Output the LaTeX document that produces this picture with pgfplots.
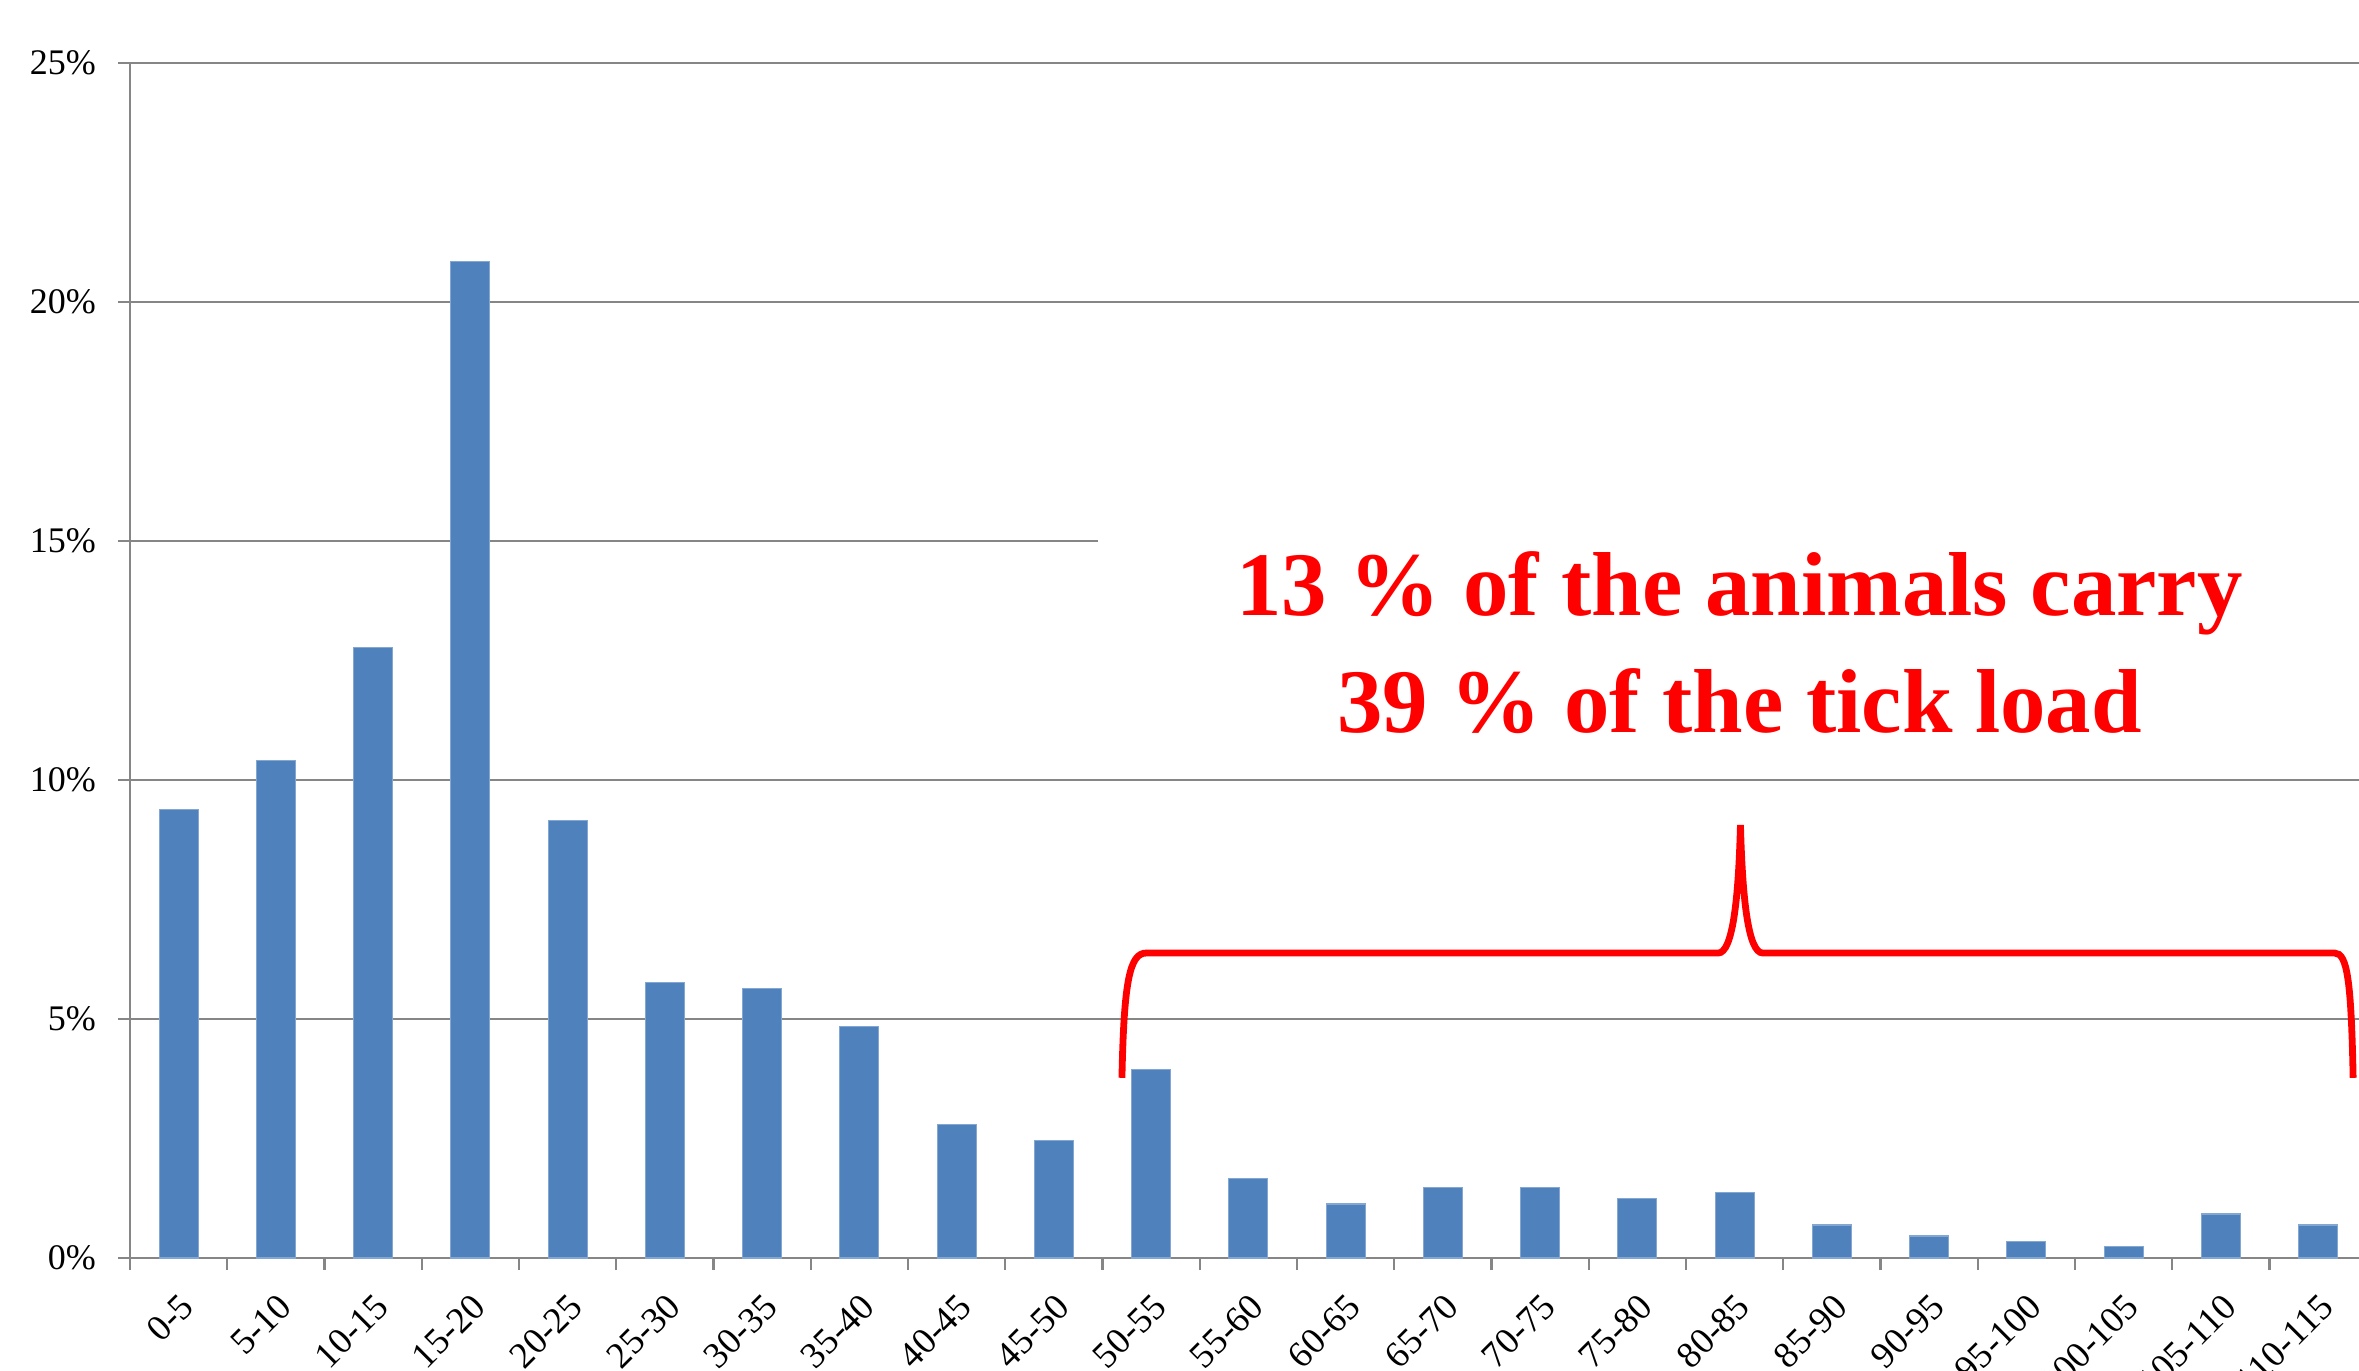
\documentclass[border=0pt]{standalone}
\usepackage{fontspec}
\setmainfont{Liberation Serif}
\usepackage{pgfplots}
\pgfplotsset{compat=1.18}
\definecolor{barblue}{RGB}{79,129,189}
\definecolor{gridgray}{RGB}{134,134,134}
\definecolor{annred}{RGB}{255,0,0}
\begin{document}
\begin{tikzpicture}
\path[use as bounding box, clip] (-32.5pt,-28.25pt) rectangle (557.25pt,314.5pt);
\begin{axis}[
  at={(0,0)}, anchor=south west,
  scale only axis,
  width=559.19pt, height=298.75pt,
  xmin=-0.5, xmax=22.5, ymin=0, ymax=25,
  axis lines*=left,
  axis line style={draw=gridgray, line width=0.6pt},
  tick align=outside,
  major tick length=3pt,
  tick style={draw=gridgray, line width=0.6pt},
  ymajorgrids,
  grid style={draw=gridgray, line width=0.6pt},
  ytick={0,5,10,15,20,25},
  yticklabels={0\%,5\%,10\%,15\%,20\%,25\%},
  yticklabel style={font=\fontsize{9}{10}\selectfont, anchor=east, xshift=-2pt},
  xtick={-0.5,0.5,...,22.5},
  xticklabels={},
  extra x ticks={0,1,...,22},
  extra x tick labels={0-5,5-10,10-15,15-20,20-25,25-30,30-35,35-40,40-45,45-50,50-55,55-60,60-65,65-70,70-75,75-80,80-85,85-90,90-95,95-100,100-105,105-110,110-115},
  extra x tick style={major tick length=0pt, xticklabel style={font=\fontsize{9.2}{10}\selectfont, yshift=-3.5pt, rotate=45, anchor=north east}},
  clip=false,
]
\addplot[ybar, bar width=9.75pt, bar shift=0pt, fill=barblue, draw=barblue!70!white, line width=0.3pt] coordinates {
(0,9.38) (1,10.40) (2,12.78) (3,20.84) (4,9.16) (5,5.76) (6,5.64) (7,4.85)
(8,2.80) (9,2.46) (10,3.94) (11,1.67) (12,1.13) (13,1.48) (14,1.48) (15,1.25)
(16,1.37) (17,0.69) (18,0.46) (19,0.35) (20,0.24) (21,0.92) (22,0.69)
};
\fill[white] (axis cs:9.45,12) rectangle (axis cs:23.5,17);
\draw[annred, line width=1.7pt, line cap=butt]
 (axis cs:9.70,3.77) .. controls (axis cs:9.72,5.8) and (axis cs:9.78,6.38) .. (axis cs:9.95,6.38)
 -- (axis cs:15.83,6.38) .. controls (axis cs:15.98,6.38) and (axis cs:16.04,7.5) .. (axis cs:16.06,9.06)
 .. controls (axis cs:16.08,7.5) and (axis cs:16.14,6.38) .. (axis cs:16.29,6.38)
 -- (axis cs:22.17,6.38) .. controls (axis cs:22.30,6.38) and (axis cs:22.34,5.8) .. (axis cs:22.36,3.77);
\node[anchor=base, text=annred, font=\fontsize{22.7}{27}\selectfont\bfseries, inner sep=0pt] at (axis cs:16.05,13.45) {13 \% of the animals carry};
\node[anchor=base, text=annred, font=\fontsize{22.7}{27}\selectfont\bfseries, inner sep=0pt] at (axis cs:16.05,11.0) {39 \% of the tick load};
\end{axis}
\end{tikzpicture}
\end{document}
